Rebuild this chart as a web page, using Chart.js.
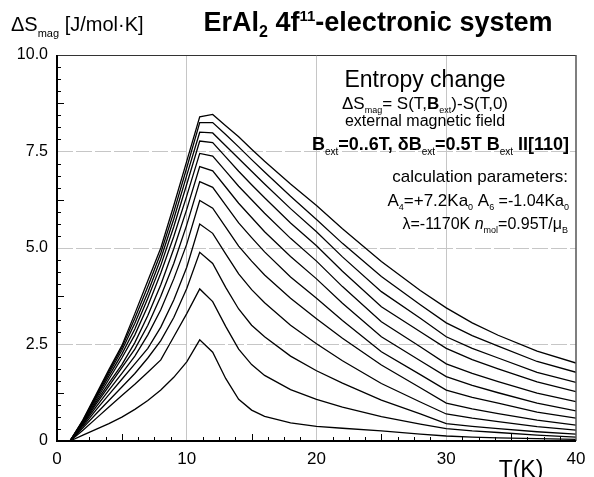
<!DOCTYPE html>
<html>
<head>
<meta charset="utf-8">
<script src="https://cdn.jsdelivr.net/npm/chart.js@4.4.0/dist/chart.umd.min.js"></script>
<style>
html, body { margin: 0; padding: 0; background: #fff; }
</style>
</head>
<body>
<canvas id="entropyChart" width="594" height="477"></canvas>
<script>
// temperature grid (K) of the calculated points
const temps = [1, 2, 3, 4, 5, 6, 7, 8, 9, 10, 11, 12, 13, 14, 15, 16, 18, 20, 22, 25, 28, 30, 32, 34, 37, 40];

// -dS_mag (J/mol K) for each external field, B || [110]
const dS_6p0T = [0, 0.55, 1.20, 1.85, 2.47, 3.30, 4.15, 5.00, 6.10, 7.25, 8.40, 8.46, 8.17, 7.88, 7.56, 7.25, 6.66, 6.10, 5.50, 4.65, 3.90, 3.45, 3.06, 2.74, 2.33, 2.02];
const dS_5p5T = [0, 0.53, 1.17, 1.80, 2.42, 3.18, 4.00, 4.87, 5.93, 7.08, 8.25, 8.25, 7.94, 7.62, 7.29, 6.97, 6.34, 5.74, 5.12, 4.26, 3.53, 3.06, 2.73, 2.46, 2.06, 1.78];
const dS_5p0T = [0, 0.52, 1.13, 1.75, 2.35, 3.05, 3.85, 4.72, 5.75, 6.88, 8.00, 7.98, 7.65, 7.32, 6.99, 6.66, 6.02, 5.42, 4.77, 3.87, 3.18, 2.70, 2.40, 2.15, 1.78, 1.52];
const dS_4p5T = [0, 0.50, 1.10, 1.68, 2.25, 2.90, 3.70, 4.55, 5.55, 6.65, 7.77, 7.73, 7.36, 6.99, 6.64, 6.30, 5.65, 5.06, 4.40, 3.48, 2.83, 2.40, 2.11, 1.87, 1.53, 1.28];
const dS_4p0T = [0, 0.48, 1.05, 1.60, 2.15, 2.75, 3.50, 4.35, 5.30, 6.35, 7.45, 7.38, 6.99, 6.60, 6.25, 5.90, 5.25, 4.66, 4.00, 3.09, 2.44, 2.00, 1.75, 1.54, 1.24, 1.02];
const dS_3p5T = [0, 0.46, 1.00, 1.50, 1.98, 2.55, 3.25, 4.05, 4.98, 6.00, 7.11, 7.00, 6.58, 6.16, 5.79, 5.42, 4.78, 4.20, 3.57, 2.70, 2.08, 1.67, 1.44, 1.25, 0.98, 0.78];
const dS_3p0T = [0, 0.44, 0.95, 1.42, 1.90, 2.38, 3.00, 3.75, 4.60, 5.60, 6.72, 6.57, 6.11, 5.65, 5.27, 4.90, 4.25, 3.70, 3.12, 2.31, 1.72, 1.32, 1.13, 0.98, 0.75, 0.59];
const dS_2p5T = [0, 0.42, 0.88, 1.32, 1.75, 2.20, 2.75, 3.40, 4.20, 5.10, 6.23, 6.03, 5.54, 5.05, 4.66, 4.30, 3.70, 3.17, 2.66, 1.97, 1.38, 0.98, 0.83, 0.71, 0.54, 0.41];
const dS_2p0T = [0, 0.38, 0.80, 1.20, 1.60, 2.00, 2.40, 2.95, 3.65, 4.50, 5.62, 5.38, 4.85, 4.33, 3.92, 3.58, 3.00, 2.52, 2.08, 1.49, 1.01, 0.70, 0.59, 0.50, 0.37, 0.28];
const dS_1p5T = [0, 0.34, 0.70, 1.05, 1.40, 1.75, 2.15, 2.60, 3.20, 3.95, 4.89, 4.60, 3.98, 3.42, 3.00, 2.70, 2.20, 1.82, 1.50, 1.06, 0.70, 0.45, 0.38, 0.32, 0.24, 0.18];
const dS_1p0T = [0, 0.28, 0.58, 0.88, 1.18, 1.47, 1.78, 2.10, 2.70, 3.30, 3.94, 3.61, 2.97, 2.38, 1.98, 1.70, 1.33, 1.08, 0.88, 0.63, 0.44, 0.32, 0.26, 0.22, 0.15, 0.10];
const dS_0p5T = [0, 0.15, 0.30, 0.45, 0.62, 0.82, 1.05, 1.32, 1.65, 2.05, 2.62, 2.30, 1.62, 1.08, 0.80, 0.64, 0.47, 0.38, 0.33, 0.26, 0.18, 0.13, 0.10, 0.08, 0.06, 0.04];

// B = 0 reference line
const tZero = [0, 40];
const dS_0T = [0, 0];

const fieldSeries = [dS_6p0T, dS_5p5T, dS_5p0T, dS_4p5T, dS_4p0T, dS_3p5T,
                     dS_3p0T, dS_2p5T, dS_2p0T, dS_1p5T, dS_1p0T, dS_0p5T];
const fieldLabels = ['6.0 T', '5.5 T', '5.0 T', '4.5 T', '4.0 T', '3.5 T',
                     '3.0 T', '2.5 T', '2.0 T', '1.5 T', '1.0 T', '0.5 T'];

const xTicks = [0, 10, 20, 30, 40];
const yTicks = [0, 2.5, 5, 7.5, 10];

const FONT = "'Liberation Sans', Arial, sans-serif";

function toPoints(xs, ys) {
	return xs.map((x, i) => ({x: x, y: ys[i]}));
}

const datasets = fieldSeries.map((s, i) => ({
	label: fieldLabels[i],
	data: toPoints(temps, s),
	borderColor: '#000',
	borderWidth: 1.3,
	pointRadius: 0,
	tension: 0,
	fill: false
}));
datasets.push({
	label: '0 T',
	data: toPoints(tZero, dS_0T),
	borderColor: '#000',
	borderWidth: 2,
	pointRadius: 0,
	clip: 4
});

// draws a line of text built from pieces with sub/superscripts
function richText(ctx, parts, x, y, align) {
	let total = 0;
	for (const p of parts) {
		ctx.font = (p.style || '') + ' ' + (p.weight || 'normal') + ' ' + p.size + 'px ' + FONT;
		p.w = ctx.measureText(p.t).width;
		total += p.w;
	}
	let cx = x;
	if (align === 'right') cx = x - total;
	if (align === 'center') cx = x - total / 2;
	ctx.textAlign = 'left';
	ctx.textBaseline = 'alphabetic';
	for (const p of parts) {
		ctx.font = (p.style || '') + ' ' + (p.weight || 'normal') + ' ' + p.size + 'px ' + FONT;
		ctx.fillText(p.t, cx, y + (p.dy || 0));
		cx += p.w;
	}
}

const framePlugin = {
	id: 'framePlugin',
	afterDatasetsDraw(chart) {
		const ctx = chart.ctx;
		const xs = chart.scales.x, ys = chart.scales.y;
		const a = chart.chartArea;
		ctx.save();
		ctx.strokeStyle = '#000';
		// minor ticks, inside the frame
		ctx.lineWidth = 1;
		for (let k = 1; k < 32; k++) {
			if (k % 8 === 0) continue;
			const len = (k % 4 === 0) ? 7 : 4;
			const py = Math.round(ys.getPixelForValue(k * 10 / 32)) + 0.5;
			ctx.beginPath();
			ctx.moveTo(a.left, py);
			ctx.lineTo(a.left + len, py);
			ctx.stroke();
			const px = Math.round(xs.getPixelForValue(k * 40 / 32)) + 0.5;
			ctx.beginPath();
			ctx.moveTo(px, a.bottom);
			ctx.lineTo(px, a.bottom - len);
			ctx.stroke();
		}
		// frame
		ctx.lineWidth = 1;
		ctx.strokeStyle = '#333';
		ctx.beginPath();
		ctx.moveTo(a.left, a.top + 0.5);
		ctx.lineTo(a.right, a.top + 0.5);
		ctx.stroke();
		ctx.lineWidth = 1.5;
		ctx.strokeStyle = '#555';
		ctx.beginPath();
		ctx.moveTo(a.right, a.top);
		ctx.lineTo(a.right, a.bottom);
		ctx.stroke();
		ctx.lineWidth = 2;
		ctx.strokeStyle = '#000';
		ctx.beginPath();
		ctx.moveTo(a.left, a.top);
		ctx.lineTo(a.left, a.bottom);
		ctx.lineTo(a.right, a.bottom);
		ctx.stroke();
		ctx.restore();
	},
	afterDraw(chart) {
		const ctx = chart.ctx;
		ctx.save();
		ctx.fillStyle = '#000';
		// axis titles and heading
		richText(ctx, [
			{t: '\u0394S', size: 20},
			{t: 'mag', size: 11, dy: 6},
			{t: ' [J/mol\u00B7K]', size: 20}
		], 11, 31, 'left');
		richText(ctx, [
			{t: 'ErAl', size: 27, weight: 'bold'},
			{t: '2', size: 16, weight: 'bold', dy: 6},
			{t: ' 4f', size: 27, weight: 'bold'},
			{t: '11', size: 15, weight: 'bold', dy: -10},
			{t: '-electronic system', size: 27, weight: 'bold'}
		], 378, 31, 'center');
		richText(ctx, [{t: 'T(K)', size: 23}], 521, 477, 'center');

		// annotation block
		const cxText = 425;
		richText(ctx, [{t: 'Entropy change', size: 23}], cxText, 87, 'center');
		richText(ctx, [
			{t: '\u0394S', size: 17},
			{t: 'mag', size: 9, dy: 4},
			{t: '= S(T,', size: 17},
			{t: 'B', size: 17, weight: 'bold'},
			{t: 'ext', size: 9, dy: 4},
			{t: ')-S(T,0)', size: 17}
		], cxText, 109, 'center');
		richText(ctx, [{t: 'external magnetic field', size: 16}], cxText, 126, 'center');
		richText(ctx, [
			{t: 'B', size: 18, weight: 'bold'},
			{t: 'ext', size: 10, dy: 5},
			{t: '=0..6T, \u03B4B', size: 18, weight: 'bold'},
			{t: 'ext', size: 10, dy: 5},
			{t: '=0.5T B', size: 18, weight: 'bold'},
			{t: 'ext', size: 10, dy: 5},
			{t: ' II[110]', size: 18, weight: 'bold'}
		], 569, 150, 'right');
		richText(ctx, [{t: 'calculation parameters:', size: 17}], 568, 182, 'right');
		richText(ctx, [
			{t: 'A', size: 17},
			{t: '4', size: 9, dy: 4},
			{t: '=+7.2Ka', size: 17},
			{t: '0', size: 9, dy: 4},
			{t: ' A', size: 17},
			{t: '6', size: 9, dy: 4},
			{t: ' =-1.04Ka', size: 16},
			{t: '0', size: 9, dy: 4}
		], 569, 206, 'right');
		richText(ctx, [
			{t: '\u03BB=-1170K ', size: 16},
			{t: 'n', size: 16, style: 'italic'},
			{t: 'mol', size: 9, dy: 4},
			{t: '=0.95T/\u03BC', size: 16},
			{t: 'B', size: 9, dy: 4}
		], 568, 229, 'right');
		ctx.restore();
	}
};

new Chart(document.getElementById('entropyChart'), {
	type: 'line',
	data: {datasets: datasets},
	options: {
		responsive: false,
		animation: false,
		layout: {padding: {top: 55, right: 18, left: 0, bottom: 0}},
		plugins: {legend: {display: false}, tooltip: {enabled: false}},
		scales: {
			x: {
				type: 'linear',
				min: 0,
				max: 40,
				afterFit: (s) => { s.height = 36; },
				afterBuildTicks: (s) => { s.ticks = xTicks.map(v => ({value: v})); },
				grid: {
					drawTicks: false,
					color: (c) => (c.tick && (c.tick.value === 0 || c.tick.value === 40)) ? 'rgba(0,0,0,0)' : '#c6c6c6',
					lineWidth: 1
				},
				border: {display: false},
				ticks: {
					padding: 8,
					color: '#000',
					font: {family: FONT, size: 17},
					maxRotation: 0,
					callback: (v) => String(v)
				}
			},
			y: {
				type: 'linear',
				min: 0,
				max: 10,
				afterFit: (s) => { s.width = 57; },
				afterBuildTicks: (s) => { s.ticks = yTicks.map(v => ({value: v})); },
				grid: {
					drawTicks: false,
					color: (c) => (c.tick && c.tick.value === 0) ? 'rgba(0,0,0,0)' : '#c6c6c6',
					lineWidth: 1
				},
				border: {display: false, dash: [16, 3]},
				ticks: {
					padding: 9,
					color: '#000',
					font: {family: FONT, size: 16},
					callback: (v) => v === 0 ? '0' : v.toFixed(1)
				}
			}
		}
	},
	plugins: [framePlugin]
});
</script>
</body>
</html>
